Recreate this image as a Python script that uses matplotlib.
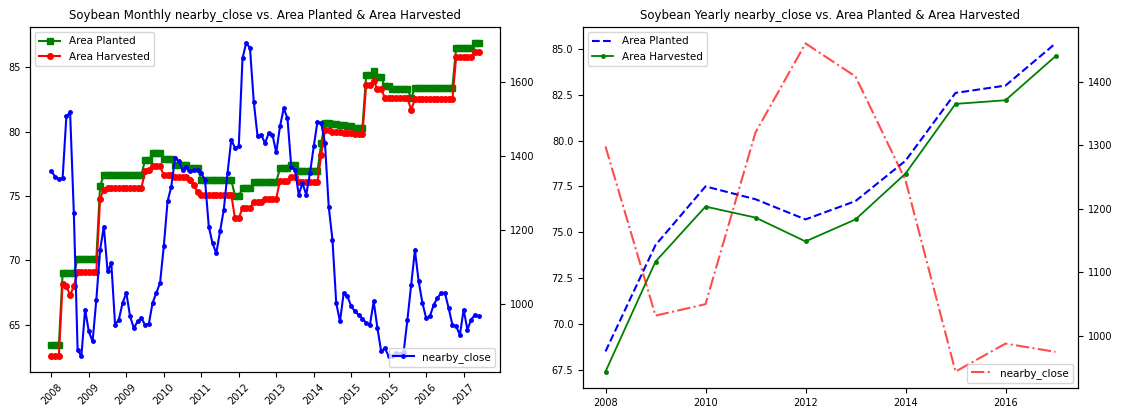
import matplotlib
matplotlib.use("Agg")
import matplotlib.pyplot as plt

# monthly series, one value per month (index 0 .. 114)
monthly_close = [
    1359, 1345, 1338, 1340, 1507, 1518, 1246, 878, 860, 986,
    927, 900, 1013, 1147, 1210, 1089, 1111, 945, 959, 1004,
    1031, 968, 936, 954, 963, 945, 947, 1004, 1031, 1058,
    1157, 1278, 1318, 1395, 1386, 1363, 1372, 1359, 1363, 1363,
    1354, 1335, 1210, 1165, 1138, 1197, 1255, 1354, 1444, 1422,
    1426, 1664, 1706, 1691, 1547, 1455, 1457, 1435, 1462, 1457,
    1410, 1480, 1529, 1502, 1372, 1363, 1296, 1327, 1296, 1354,
    1426, 1493, 1489, 1435, 1264, 1174, 1004, 954, 1031, 1022,
    995, 981, 972, 962, 950, 945, 1008, 936, 873, 882,
    860, 862, 868, 866, 872, 959, 1053, 1146, 1062, 1004,
    963, 968, 999, 1017, 1031, 1031, 990, 945, 941, 918,
    986, 932, 959, 972, 968,
]

monthly_planted = (
    [63.4] * 3 + [69.0] * 4 + [70.1] * 6 + [75.8] + [76.6] * 11
    + [77.8] * 2 + [78.3] * 3 + [77.9] * 3 + [77.4] * 4 + [77.15] * 3
    + [76.25] * 9 + [75.0] * 2 + [75.6] * 3 + [76.1] * 7 + [77.15] * 3
    + [77.4] * 2 + [76.9] * 6 + [79.1]
    + [80.7, 80.7, 80.6, 80.6, 80.5, 80.5, 80.4, 80.4, 80.3, 80.3, 80.3]
    + [84.4] * 2 + [84.7] + [84.2] * 2 + [83.5] * 2 + [83.3] * 5 + [82.6]
    + [83.4] * 11 + [86.5] * 5 + [86.9] * 2
)

monthly_harvested = (
    [62.55] * 3 + [68.2, 68.0, 67.3, 68.0] + [69.1] * 6 + [74.8] + [75.5]
    + [75.6] * 10 + [76.9, 77.0] + [77.3] * 3 + [76.6] * 3 + [76.45] * 4
    + [76.25] + [75.85] + [75.3] + [75.1] * 9 + [73.25] * 2 + [74.1] * 3
    + [74.5] * 3 + [74.8] * 4 + [76.2] * 3 + [76.5] * 2 + [76.05] * 6 + [78.2]
    + [80.1, 80.1, 80.0, 80.0, 79.95, 79.9, 79.9, 79.85, 79.8, 79.8, 79.8]
    + [83.65] * 2 + [83.9] + [83.3] * 2 + [82.6] * 7 + [81.7]
    + [82.5] * 11 + [85.8] * 5 + [86.2] * 2
)

month_tick_pos = [0, 10, 20, 30, 40, 50, 60, 70, 80, 90, 100, 110]
month_tick_labels = ['2008', '2009', '2009', '2010', '2011', '2012',
                     '2013', '2014', '2015', '2015', '2016', '2017']

# yearly series
years = [2008, 2009, 2010, 2011, 2012, 2013, 2014, 2015, 2016, 2017]
yearly_planted = [68.5, 74.3, 77.5, 76.8, 75.7, 76.7, 78.9, 82.6, 83.0, 85.3]
yearly_harvested = [67.4, 73.4, 76.4, 75.8, 74.5, 75.7, 78.2, 82.0, 82.2, 84.6]
yearly_close = [1298, 1032, 1050, 1320, 1460, 1408, 1245, 944, 988, 975]

plt.rcParams['font.family'] = 'DejaVu Sans'
plt.rcParams['xtick.labelsize'] = 7
plt.rcParams['ytick.labelsize'] = 7

W, H = 1121, 408
fig = plt.figure(figsize=(W / 100, H / 100), dpi=100)

# left: monthly
ax1 = fig.add_axes([30 / W, (H - 372) / H, 470 / W, 345 / H])
idx = list(range(len(monthly_close)))
ax1.plot(idx, monthly_planted, '-s', color='g', markersize=4, linewidth=1.5,
         label='Area Planted')
ax1.plot(idx, monthly_harvested, '-o', color='r', markersize=4, linewidth=1.5,
         label='Area Harvested')
ax1.set_xticks(month_tick_pos)
ax1.set_xticklabels(month_tick_labels, rotation=45)
ax1.legend(loc='upper left', fontsize=7.5)
ax1.set_title('Soybean Monthly nearby_close vs. Area Planted & Area Harvested',
              fontsize=8.5)

ax1b = ax1.twinx()
ax1b.plot(idx, monthly_close, '-o', color='b', markersize=2.5, linewidth=1.5,
          label='nearby_close')
ax1b.legend(loc='lower right', fontsize=7.5)

# right: yearly
ax2 = fig.add_axes([583 / W, (H - 388) / H, 495 / W, 361 / H])
ax2.plot(years, yearly_planted, 'b--', linewidth=1.5, label='Area Planted')
ax2.plot(years, yearly_harvested, 'g-', marker='.', markersize=5,
         linewidth=1.3, label='Area Harvested')
ax2.legend(loc='upper left', fontsize=7.5)
ax2.set_title('Soybean Yearly nearby_close vs. Area Planted & Area Harvested',
              fontsize=8.5)

ax2b = ax2.twinx()
ax2b.plot(years, yearly_close, 'r-.', linewidth=1.5, alpha=0.7,
          label='nearby_close')
ax2b.legend(loc='lower right', fontsize=7.5)

fig.savefig('out.png', dpi=100)
